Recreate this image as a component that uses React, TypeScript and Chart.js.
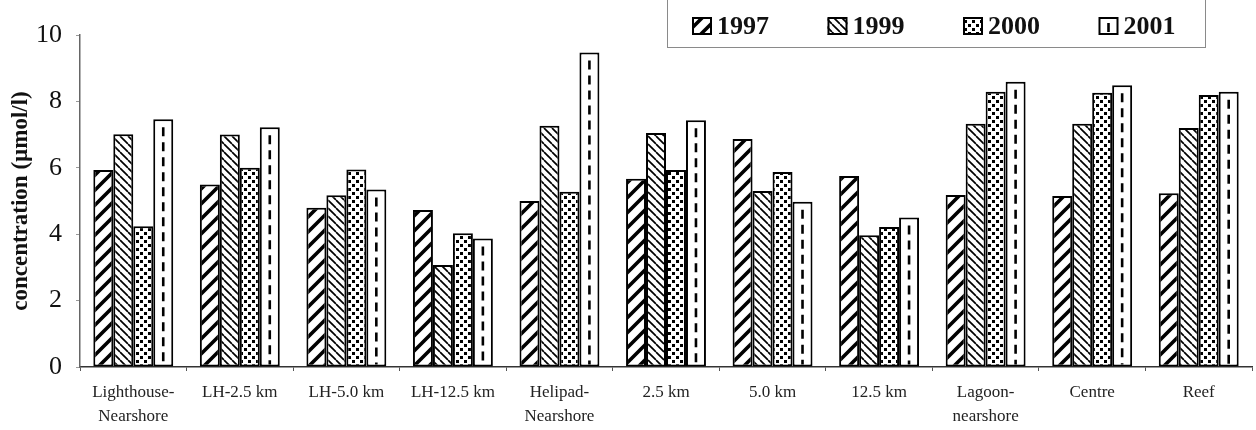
import React, { useEffect, useRef } from "react";
import { Chart, registerables } from "chart.js";

Chart.register(...registerables);

const categories: (string | string[])[] = [
  ["Lighthouse-", "Nearshore"],
  "LH-2.5 km",
  "LH-5.0 km",
  "LH-12.5 km",
  ["Helipad-", "Nearshore"],
  "2.5 km",
  "5.0 km",
  "12.5 km",
  ["Lagoon-", "nearshore"],
  "Centre",
  "Reef",
];

const seriesLabels = ["1997", "1999", "2000", "2001"];

const values1997 = [5.93, 5.5, 4.8, 4.73, 5.0, 5.67, 6.87, 5.75, 5.18, 5.15, 5.23];
const values1999 = [7.01, 7.0, 5.17, 3.07, 7.27, 7.05, 5.3, 3.97, 7.33, 7.33, 7.2];
const values2000 = [4.24, 6.0, 5.95, 4.03, 5.28, 5.93, 5.87, 4.22, 8.29, 8.26, 8.19];
const values2001 = [7.46, 7.22, 5.35, 3.87, 9.47, 7.43, 4.98, 4.5, 8.59, 8.49, 8.29];

const yTickValues = [0, 2, 4, 6, 8, 10];
const yTitle = "concentration (\u00b5mol/l)";

const FONT = "'Liberation Serif', 'Times New Roman', serif";

function makeTile(size: number, draw: (c: CanvasRenderingContext2D, s: number) => void) {
  const cv = document.createElement("canvas");
  cv.width = size;
  cv.height = size;
  const c = cv.getContext("2d")!;
  c.fillStyle = "#fff";
  c.fillRect(0, 0, size, size);
  draw(c, size);
  return cv;
}

function makePatterns(ctx: CanvasRenderingContext2D) {
  const forward = makeTile(15, (c, s) => {
    c.strokeStyle = "#000";
    c.lineWidth = 3.6;
    c.lineCap = "square";
    for (const o of [-s, 0, s]) {
      c.beginPath();
      c.moveTo(o, s);
      c.lineTo(o + s, 0);
      c.stroke();
    }
  });
  const back = makeTile(8, (c, s) => {
    c.strokeStyle = "#000";
    c.lineWidth = 1.7;
    for (const o of [-s, 0, s]) {
      c.beginPath();
      c.moveTo(o, 0);
      c.lineTo(o + s, s);
      c.stroke();
    }
  });
  const dots = makeTile(8, (c) => {
    c.fillStyle = "#000";
    c.fillRect(0, 0, 3, 3);
    c.fillRect(4, 4, 3, 3);
  });
  return [
    ctx.createPattern(forward, "repeat")!,
    ctx.createPattern(back, "repeat")!,
    ctx.createPattern(dots, "repeat")!,
    "#ffffff",
  ];
}

function drawDash(ctx: CanvasRenderingContext2D, x: number, top: number, bottom: number) {
  ctx.save();
  ctx.strokeStyle = "#000";
  ctx.lineWidth = 2.6;
  ctx.setLineDash([9, 6]);
  ctx.beginPath();
  ctx.moveTo(x, top);
  ctx.lineTo(x, bottom);
  ctx.stroke();
  ctx.restore();
}

const dashPlugin = {
  id: "dash2001",
  afterDatasetsDraw(chart: any) {
    const meta = chart.getDatasetMeta(3);
    const ctx = chart.ctx;
    meta.data.forEach((bar: any) => {
      const top = Math.min(bar.y, bar.base) + 8;
      const bottom = Math.max(bar.y, bar.base) - 2;
      drawDash(ctx, bar.x, top, bottom);
    });
  },
};

const legendPlugin = {
  id: "boxLegend",
  afterDraw(chart: any) {
    const ctx: CanvasRenderingContext2D = chart.ctx;
    ctx.save();
    ctx.strokeStyle = "#8a8a8a";
    ctx.lineWidth = 1;
    ctx.strokeRect(667.5, -1, 538, 48.5);
    chart.data.datasets.forEach((ds: any, i: number) => {
      const x = 692 + i * 135.5;
      const y = 17;
      ctx.fillStyle = ds.backgroundColor;
      ctx.fillRect(x, y, 20, 18);
      if (i === 3) drawDash(ctx, x + 10, y + 6, y + 18);
      ctx.strokeStyle = "#000";
      ctx.lineWidth = 2;
      ctx.setLineDash([]);
      ctx.strokeRect(x + 1, y + 1, 18, 16);
      ctx.fillStyle = "#111";
      ctx.font = `bold 26px ${FONT}`;
      ctx.textBaseline = "middle";
      ctx.textAlign = "left";
      ctx.fillText(ds.label, x + 25, y + 10);
    });
    ctx.restore();
  },
};

export default function App() {
  const ref = useRef<HTMLCanvasElement | null>(null);

  useEffect(() => {
    const canvas = ref.current!;
    const ctx = canvas.getContext("2d")!;
    const fills = makePatterns(ctx);
    const all = [values1997, values1999, values2000, values2001];
    const chart = new Chart(canvas, {
      type: "bar",
      data: {
        labels: categories,
        datasets: all.map((vals, i) => ({
          label: seriesLabels[i],
          data: vals,
          backgroundColor: fills[i] as any,
          borderColor: "#000",
          borderWidth: 2,
          borderSkipped: false,
          barPercentage: 1,
          categoryPercentage: 0.75,
        })),
      },
      options: {
        responsive: false,
        animation: false,
        devicePixelRatio: 1,
        layout: { padding: { top: 35, right: 4, bottom: 0, left: 0 } },
        plugins: {
          legend: { display: false },
          tooltip: { enabled: false },
        },
        scales: {
          x: {
            grid: {
              display: true,
              drawOnChartArea: false,
              drawTicks: true,
              tickLength: 4,
              color: "#555",
            },
            border: { color: "#333", width: 1.5 },
            ticks: {
              autoSkip: false,
              maxRotation: 0,
              minRotation: 0,
              padding: 10,
              color: "#222",
              font: { family: FONT, size: 17, lineHeight: "24px" },
            },
            afterFit: (scale: any) => {
              scale.height = 63;
            },
          },
          y: {
            min: 0,
            max: 10,
            afterBuildTicks: (scale: any) => {
              scale.ticks = yTickValues.map((v) => ({ value: v }));
            },
            grid: {
              display: true,
              drawOnChartArea: false,
              drawTicks: true,
              tickLength: 4,
              color: "#999",
            },
            border: { color: "#666", width: 1.5 },
            ticks: {
              padding: 14,
              color: "#111",
              font: { family: FONT, size: 26 },
            },
            title: {
              display: true,
              text: yTitle,
              color: "#111",
              padding: { top: 7, bottom: 0 },
              font: { family: FONT, size: 23, weight: "bold" },
            },
            afterFit: (scale: any) => {
              scale.width = 80;
            },
          },
        },
      },
      plugins: [dashPlugin, legendPlugin],
    });
    return () => chart.destroy();
  }, []);

  return (
    <div style={{ position: "fixed", left: 0, top: 0, width: 1256, height: 430, background: "#fff" }}>
      <canvas ref={ref} width={1256} height={430} style={{ width: 1256, height: 430 }} />
    </div>
  );
}
